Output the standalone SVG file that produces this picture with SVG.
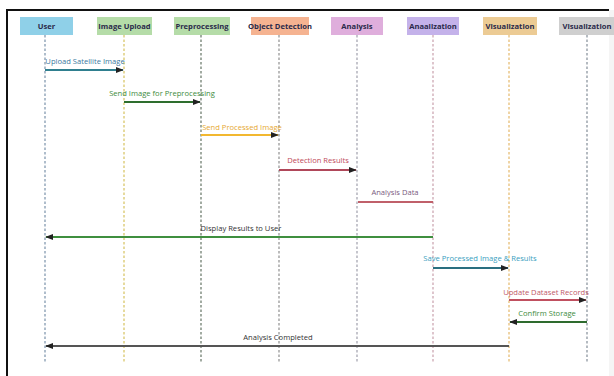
<svg xmlns="http://www.w3.org/2000/svg" width="614" height="376" viewBox="0 0 614 376">
<style>
.hdr{font-family:"Open Sans","DejaVu Sans",sans-serif;font-size:7.6px;font-weight:bold;fill:#2a2a4a;text-anchor:middle}
.lbl{font-family:"Open Sans","DejaVu Sans",sans-serif;font-size:7.6px;text-anchor:middle}
.life{stroke-width:1.2;stroke-dasharray:2.5 2;fill:none}
.msg{stroke-width:2;fill:none}
</style>
<defs>
<marker id="ah" viewBox="0 0 10 10" refX="9" refY="5" markerWidth="4" markerHeight="4" orient="auto-start-reverse" markerUnits="strokeWidth">
<path d="M0,1 L10,5 L0,9 z" fill="#222"/>
</marker>
</defs>
<rect x="0" y="0" width="614" height="376" fill="#ffffff"/>
<rect x="609" y="10" width="5" height="366" fill="#f5f5f5"/>
<path d="M7,376 V10 H609" stroke="#111" stroke-width="2" fill="none"/>

<g id="lifelines">
<line class="life" x1="45" y1="35" x2="45" y2="362" stroke="#7a92aa"/>
<line class="life" x1="124" y1="35" x2="124" y2="362" stroke="#d6c25e"/>
<line class="life" x1="201" y1="35" x2="201" y2="362" stroke="#647464"/>
<line class="life" x1="279" y1="35" x2="279" y2="362" stroke="#8f8f8f"/>
<line class="life" x1="357" y1="35" x2="357" y2="362" stroke="#a0a0ac"/>
<line class="life" x1="433" y1="35" x2="433" y2="362" stroke="#c9a0ac"/>
<line class="life" x1="509" y1="35" x2="509" y2="362" stroke="#e4b86a"/>
<line class="life" x1="587" y1="35" x2="587" y2="362" stroke="#848e98"/>
</g>

<g id="node-user"><rect x="20" y="17" width="53" height="18" fill="#8fd0e8"/><text class="hdr" x="46.5" y="28.8">User</text></g>
<g id="node-image-upload"><rect x="97" y="17" width="55" height="18" fill="#b5dca8"/><text class="hdr" x="124.5" y="28.8">Image Upload</text></g>
<g id="node-preprocessing"><rect x="174" y="17" width="56" height="18" fill="#b5dca8"/><text class="hdr" x="202" y="28.8">Preprocessing</text></g>
<g id="node-object-detection"><rect x="251" y="17" width="58" height="18" fill="#f5b391"/><text class="hdr" x="280" y="28.8">Object Detection</text></g>
<g id="node-analysis"><rect x="331" y="17" width="52" height="18" fill="#dfaedc"/><text class="hdr" x="357" y="28.8">Analysis</text></g>
<g id="node-anaalization"><rect x="407" y="17" width="52" height="18" fill="#c4b2ea"/><text class="hdr" x="433" y="28.8">Anaalization</text></g>
<g id="node-visualization-1"><rect x="483" y="17" width="54" height="18" fill="#eccb94"/><text class="hdr" x="510" y="28.8">Visualization</text></g>
<g id="node-visualization-2"><rect x="559" y="17" width="56" height="18" fill="#cfcfcf"/><text class="hdr" x="587" y="28.8">Visualization</text></g>

<g id="connectors">
<line class="msg" x1="45" y1="70" x2="123" y2="70" stroke="#2f7f8f" marker-end="url(#ah)"/>
<text class="lbl" x="85" y="64" fill="#3a78a0">Upload Satellite Image</text>

<line class="msg" x1="124" y1="102" x2="200" y2="102" stroke="#2e6e2e" marker-end="url(#ah)"/>
<text class="lbl" x="162" y="96" fill="#3d8b3d">Send Image for Preprocessing</text>

<line class="msg" x1="201" y1="135" x2="278" y2="135" stroke="#f2b830" marker-end="url(#ah)"/>
<text class="lbl" x="242" y="130" fill="#e6a832">Send Processed Image</text>

<line class="msg" x1="279" y1="170" x2="356" y2="170" stroke="#b0485a" marker-end="url(#ah)"/>
<text class="lbl" x="318" y="163" fill="#c04a5a">Detection Results</text>

<line class="msg" x1="358" y1="202" x2="433" y2="202" stroke="#c0606a"/>
<text class="lbl" x="395" y="195" fill="#7a5a80">Analysis Data</text>

<line class="msg" x1="433" y1="237" x2="46" y2="237" stroke="#3f8f3f" marker-end="url(#ah)"/>
<text class="lbl" x="241" y="231" fill="#333">Display Results to User</text>

<line class="msg" x1="433" y1="268" x2="508" y2="268" stroke="#2a6f80" marker-end="url(#ah)"/>
<text class="lbl" x="480" y="261" fill="#3aa0c0">Save Processed Image &amp; Results</text>

<line class="msg" x1="509" y1="300" x2="586" y2="300" stroke="#c05060" marker-end="url(#ah)"/>
<text class="lbl" x="546" y="295" fill="#c05868">Update Dataset Records</text>

<line class="msg" x1="587" y1="322" x2="510" y2="322" stroke="#2e6b2e" marker-end="url(#ah)"/>
<text class="lbl" x="547" y="316" fill="#3d8b3d">Confirm Storage</text>

<line class="msg" x1="509" y1="346" x2="46" y2="346" stroke="#555" marker-end="url(#ah)"/>
<text class="lbl" x="278" y="340" fill="#333">Analysis Completed</text>
</g>
</svg>
